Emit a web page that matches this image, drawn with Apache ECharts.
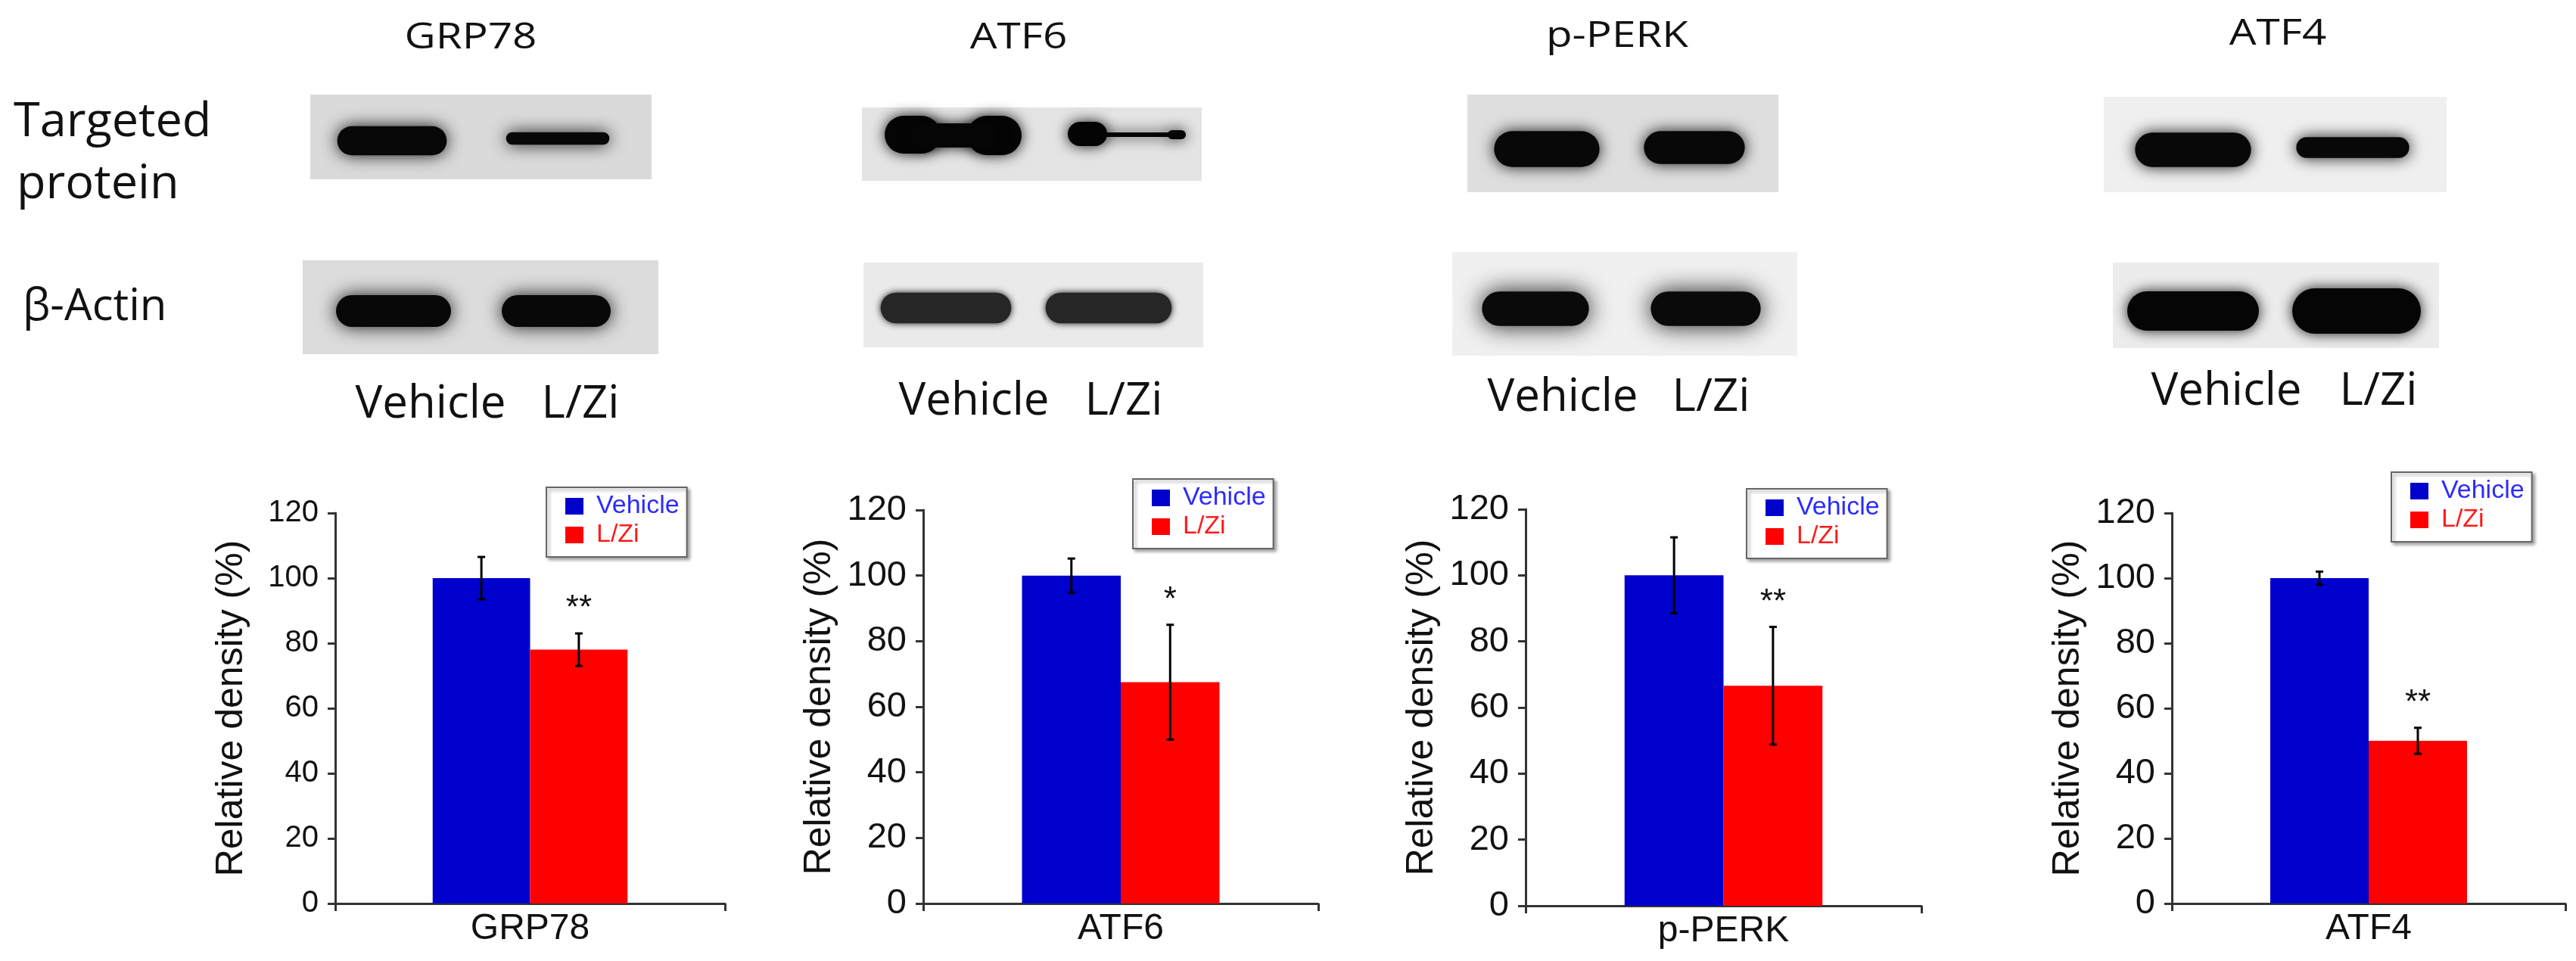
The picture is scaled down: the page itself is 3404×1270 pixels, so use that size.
<!DOCTYPE html>
<html>
<head>
<meta charset="utf-8">
<script src="https://cdn.jsdelivr.net/npm/echarts@6/dist/echarts.min.js"></script>
<style>
  html, body { margin: 0; padding: 0; background: #fff; }
  #chart { width: 3404px; height: 1270px; }
</style>
</head>
<body>
<div id="chart"></div>
<script>
// values
const proteins = ['GRP78', 'ATF6', 'p-PERK', 'ATF4'];
const groups = ['Vehicle', 'L/Zi'];
const vehicleMean = [100, 100, 100, 100];
const vehicleErr = [6.5, 5.2, 11.5, 2];
const treatedMean = [78, 67.5, 66.6, 50];
const treatedErr = [5, 17.5, 17.8, 4];
const stars = ['**', '*', '**', '**'];
const yMax = 120;
const yStep = 20;
const yName = 'Relative density (%)';
const rowLabels = ['Targeted', 'protein', 'β-Actin'];

// layout of the four bar panels (px)
const grids = [
  [443, 678, 515, 516],
  [1220, 674, 522, 520],
  [2016, 673, 523, 524],
  [2870, 678, 520, 516]
];
const legendAt = [[722, 644], [1497, 633], [2308, 646], [3160, 624]];
const tickSize = [40, 47, 47, 47];
const barBlue = '#0000cd';
const barRed = '#ff0000';
const axisColor = '#333';
const sans = 'Liberation Sans, Arial, sans-serif';
const humanist = 'Open Sans, Lato, sans-serif';

// blot pictures, title and lane labels above each panel
const blots = [
  { cx: 622, ty: 50, lanes: [569, 767], laneY: 535,
    top: { box: [410, 125, 451, 112], bg: '#dadada', blur: 22, fill: '#080808',
      pills: [[442, 163, 152, 46], [665, 171, 144, 24]] },
    act: { box: [400, 344, 470, 124], bg: '#dcdcdc', blur: 24, fill: '#080808',
      pills: [[440, 386, 160, 50], [659, 386, 152, 50]] } },
  { cx: 1346, ty: 50, lanes: [1287, 1485], laneY: 531,
    top: { box: [1139, 142, 449, 97], bg: '#e4e4e4', blur: 18, fill: '#050505',
      pills: [[1166, 150, 80, 56], [1275, 150, 78, 58], [1200, 160, 120, 38],
              [1408, 158, 58, 38], [1440, 172, 110, 12], [1540, 169, 30, 18]] },
    act: { box: [1141, 347, 449, 112], bg: '#eaeaea', blur: 10, fill: '#262626',
      pills: [[1162, 385, 176, 44], [1380, 385, 170, 44]] } },
  { cx: 2137, ty: 48, lanes: [2065, 2261], laneY: 526,
    top: { box: [1939, 125, 411, 129], bg: '#dedede', blur: 20, fill: '#080808',
      pills: [[1971, 170, 146, 54], [2169, 170, 140, 50]] },
    act: { box: [1919, 333, 456, 137], bg: '#f0f0f0', blur: 32, fill: '#0a0a0a',
      pills: [[1953, 380, 152, 56], [2176, 380, 156, 56]] } },
  { cx: 3010, ty: 45, lanes: [2942, 3143], laneY: 518,
    top: { box: [2780, 128, 453, 126], bg: '#efefef', blur: 20, fill: '#080808',
      pills: [[2818, 172, 160, 52], [3031, 178, 156, 34]] },
    act: { box: [2792, 347, 431, 113], bg: '#ececec', blur: 18, fill: '#050505',
      pills: [[2808, 382, 180, 58], [3026, 378, 176, 66]] } }
];

function blotGraphics(b) {
  const out = [{
    type: 'rect', shape: { x: b.box[0], y: b.box[1], width: b.box[2], height: b.box[3] },
    style: { fill: b.bg }
  }];
  const k = b.blur / 6; // pull the solid core in, the blur fills the edge
  b.pills.forEach(p => {
    const h = Math.max(4, p[3] - 2 * k);
    out.push({
      type: 'rect',
      shape: { x: p[0] + k, y: p[1] + k, width: p[2] - 2 * k, height: h, r: h / 2 },
      style: { fill: b.fill, shadowBlur: b.blur, shadowColor: 'rgba(0,0,0,0.9)' }
    });
  });
  return out;
}

function label(text, x, y, size, align, scaleX) {
  return {
    type: 'text', x: x, y: y, scaleX: scaleX || 1,
    style: {
      text: text, x: 0, y: 0, fill: '#111',
      font: size + 'px ' + humanist,
      align: align || 'center', verticalAlign: 'middle',
      textAlign: align || 'center', textVerticalAlign: 'middle'
    }
  };
}

const graphic = [];
blots.forEach((b, i) => {
  blotGraphics(b.top).forEach(g => graphic.push(g));
  blotGraphics(b.act).forEach(g => graphic.push(g));
  graphic.push(label(proteins[i], b.cx, b.ty, 48, 'center', 1.18));
  graphic.push(label(groups[0], b.lanes[0], b.laneY, 60));
  graphic.push(label(groups[1], b.lanes[1], b.laneY, 60));
});
graphic.push(label(rowLabels[0], 18, 162, 63, 'left'));
graphic.push(label(rowLabels[1], 22, 244, 63, 'left'));
graphic.push(label(rowLabels[2], 30, 406, 58, 'left'));

const axisLine = { show: true, lineStyle: { color: axisColor, width: 3 } };
const axisTick = { show: true, length: 10, lineStyle: { color: axisColor, width: 3 } };

const grid = [], xAxis = [], yAxis = [], legend = [], series = [];

proteins.forEach((name, i) => {
  const g = grids[i];
  grid.push({ left: g[0], top: g[1], width: g[2], height: g[3] });
  xAxis.push({
    gridIndex: i, type: 'category', data: [name],
    axisLine: axisLine, axisTick: axisTick,
    axisLabel: { fontSize: 48, color: '#111', margin: 10, fontFamily: sans }
  });
  yAxis.push({
    gridIndex: i, type: 'value', min: 0, max: yMax, interval: yStep,
    name: yName, nameLocation: 'middle', nameGap: 112,
    nameTextStyle: { fontSize: 50, color: '#111', fontFamily: sans },
    axisLine: axisLine, axisTick: axisTick, splitLine: { show: false },
    axisLabel: { fontSize: tickSize[i], color: '#111', margin: 22, fontFamily: sans }
  });
  legend.push({
    left: legendAt[i][0], top: legendAt[i][1], orient: 'vertical',
    data: [
      { name: groups[0], textStyle: { color: '#2b2bff' } },
      { name: groups[1], textStyle: { color: '#ff1a1a' } }
    ],
    icon: 'rect', itemWidth: 24, itemHeight: 22, itemGap: 4,
    padding: [8, 10, 12, 25], selectedMode: false,
    backgroundColor: '#fff', borderColor: '#666', borderWidth: 2,
    shadowColor: 'rgba(0,0,0,0.35)', shadowBlur: 4, shadowOffsetX: 3, shadowOffsetY: 3,
    textStyle: { fontSize: 34, fontFamily: sans, padding: [0, 0, 0, 12] }
  });
  series.push({
    type: 'bar', name: groups[0], xAxisIndex: i, yAxisIndex: i,
    data: [vehicleMean[i]], barCategoryGap: '50%', barGap: '0%',
    itemStyle: { color: barBlue }
  });
  series.push({
    type: 'bar', name: groups[1], xAxisIndex: i, yAxisIndex: i,
    data: [treatedMean[i]], barCategoryGap: '50%', barGap: '0%',
    itemStyle: { color: barRed }
  });
  const star = stars[i];
  series.push({
    type: 'custom', xAxisIndex: i, yAxisIndex: i, z: 5,
    data: [[0, vehicleMean[i], vehicleErr[i], 0], [0, treatedMean[i], treatedErr[i], 1]],
    renderItem: function (params, api) {
      const cat = api.value(0), mean = api.value(1), err = api.value(2), side = api.value(3);
      const band = api.size([1, 0])[0];
      const x = api.coord([cat, mean])[0] + (side === 0 ? -0.125 : 0.125) * band;
      const top = api.coord([cat, mean + err])[1];
      const bot = api.coord([cat, mean - err])[1];
      const st = { stroke: '#000', lineWidth: 3 };
      const kids = [
        { type: 'line', shape: { x1: x, y1: top, x2: x, y2: bot }, style: st },
        { type: 'line', shape: { x1: x - 5, y1: top, x2: x + 5, y2: top }, style: st },
        { type: 'line', shape: { x1: x - 5, y1: bot, x2: x + 5, y2: bot }, style: st }
      ];
      if (side === 1) {
        kids.push({
          type: 'text',
          style: { text: star, x: x, y: top - 10, fill: '#111',
            font: '44px ' + sans, align: 'center', verticalAlign: 'bottom' }
        });
      }
      return { type: 'group', children: kids };
    }
  });
});

const chart = echarts.init(document.getElementById('chart'));
chart.setOption({
  animation: false,
  backgroundColor: '#fff',
  grid: grid, xAxis: xAxis, yAxis: yAxis, legend: legend,
  series: series, graphic: graphic
});
</script>
</body>
</html>
